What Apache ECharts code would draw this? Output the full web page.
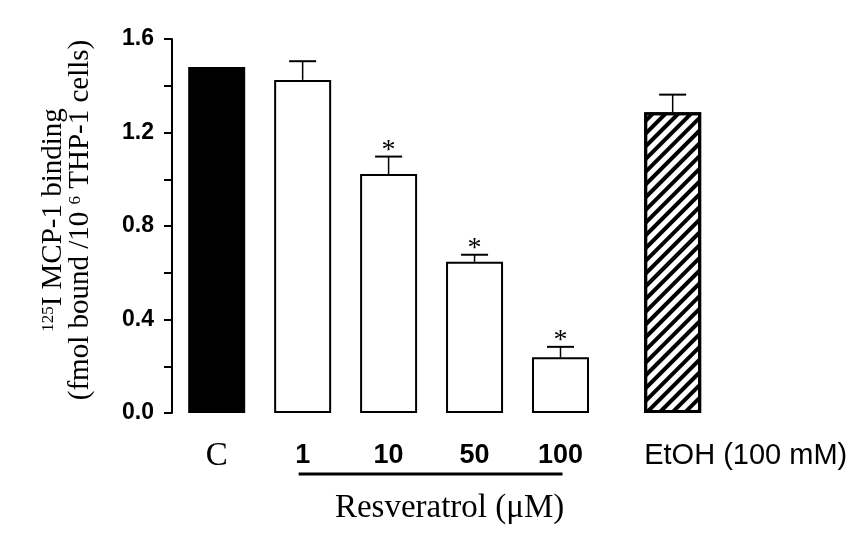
<!DOCTYPE html>
<html><head><meta charset="utf-8">
<script src="https://cdn.jsdelivr.net/npm/echarts@6/dist/echarts.min.js"></script>
<style>html,body{margin:0;padding:0;background:#fff}#c{width:864px;height:541px}</style>
</head><body><div id="c"></div>
<script>
// ---- data ----
const categories = ['C', '1', '10', '50', '100', 'EtOH (100 mM)'];
const values = [1.48, 1.425, 1.022, 0.647, 0.238, 1.287];
const errors = [0, 0.08, 0.075, 0.03, 0.045, 0.075];
const significant = [0, 0, 1, 1, 1, 0];
const yTicks = [0.0, 0.4, 0.8, 1.2, 1.6];
const groupLabel = 'Resveratrol (\u03bcM)';
const groupMembers = [1, 4];

// ---- layout ----
const slots = [0, 1, 2, 3, 4, 5.305];
const BAR_W = 57;
const SERIF = "'Liberation Serif', 'Times New Roman', serif";
const SANS = "'Liberation Sans', Arial, sans-serif";

const chart = echarts.init(document.getElementById('c'), null, {renderer: 'canvas'});

const styleFor = i => {
  if (i === 0) return {color: '#000', borderColor: '#000', borderWidth: 2};
  if (i === 5) return {color: '#fff', borderColor: '#000', borderWidth: 3,
    decal: {symbol: 'rect', symbolSize: 1, dashArrayX: [1, 0], dashArrayY: [4, 4.5],
            rotation: -Math.PI / 4, color: '#000'}};
  return {color: '#fff', borderColor: '#000', borderWidth: 2};
};

const nearestIdx = v => {
  let best = 0;
  slots.forEach((s, i) => { if (Math.abs(s - v) < Math.abs(slots[best] - v)) best = i; });
  return best;
};

const option = {
  animation: false,
  backgroundColor: '#fff',
  grid: {left: 172, top: 39, bottom: 128, right: 104, containLabel: false},
  xAxis: {
    type: 'value', min: -0.52, max: 6.321,
    axisLine: {show: false, onZero: false}, axisTick: {show: false}, splitLine: {show: false},
    axisLabel: {
      customValues: slots, margin: 26, color: '#000',
      formatter: v => {
        const i = nearestIdx(v);
        if (i === 0) return '{c|' + categories[i] + '}';
        if (i === 5) return '{e|' + categories[i] + '}';
        return '{n|' + categories[i] + '}';
      },
      rich: {
        c: {fontFamily: SERIF, fontSize: 33, lineHeight: 34, color: '#000'},
        n: {fontFamily: SANS, fontWeight: 'bold', fontSize: 27, lineHeight: 34, color: '#000'},
        e: {fontFamily: SANS, fontSize: 29, lineHeight: 34, color: '#000', width: BAR_W, align: 'left'}
      }
    }
  },
  yAxis: {
    type: 'value', min: yTicks[0], max: yTicks[yTicks.length - 1], interval: yTicks[1] - yTicks[0],
    axisLine: {show: true, onZero: false, lineStyle: {color: '#000', width: 2}},
    axisTick: {show: true, inside: false, length: 8, lineStyle: {color: '#000', width: 2}},
    minorTick: {show: true, splitNumber: 2, length: 8, lineStyle: {color: '#000', width: 2}},
    splitLine: {show: false}, minorSplitLine: {show: false},
    axisLabel: {formatter: v => v.toFixed(1), fontFamily: SANS, fontWeight: 'bold', fontSize: 23, color: '#000', margin: 18},
    name: '{sup|125}{t|I MCP-1 binding}\n{t|(fmol bound /10 }{sup|6}{t| THP-1 cells)}',
    nameLocation: 'middle', nameRotate: 90, nameGap: 78,
    nameTextStyle: {
      color: '#000', padding: [0, 0, 0, 12],
      rich: {
        t: {fontFamily: SERIF, fontSize: 29, lineHeight: 27, color: '#000'},
        sup: {fontFamily: SERIF, fontSize: 17, lineHeight: 14, verticalAlign: 'top', color: '#000'}
      }
    }
  },
  series: [
    {
      type: 'bar', barWidth: BAR_W, z: 2,
      data: values.map((v, i) => ({value: [slots[i], v], itemStyle: styleFor(i)}))
    },
    {
      type: 'custom', z: 3,
      data: values.map((v, i) => [slots[i], v, errors[i], significant[i]]),
      renderItem: (params, api) => {
        const x = api.value(0), y = api.value(1), e = api.value(2), sig = api.value(3);
        if (!e) return null;
        const p0 = api.coord([x, y]);
        const p1 = api.coord([x, y + e]);
        const ch = [
          {type: 'line', shape: {x1: p0[0], y1: p0[1], x2: p1[0], y2: p1[1]}, style: {stroke: '#000', lineWidth: 1.5}},
          {type: 'line', shape: {x1: p1[0] - 13.5, y1: p1[1], x2: p1[0] + 13.5, y2: p1[1]}, style: {stroke: '#000', lineWidth: 2}}
        ];
        if (sig) ch.push({type: 'text', x: p1[0], y: p1[1] - 6,
          style: {text: '*', fontFamily: SERIF, fontSize: 28, fill: '#000', align: 'center', verticalAlign: 'middle'}});
        return {type: 'group', children: ch};
      }
    }
  ]
};
chart.setOption(option);

const xa = chart.convertToPixel({xAxisIndex: 0}, slots[groupMembers[0]]);
const xb = chart.convertToPixel({xAxisIndex: 0}, slots[groupMembers[1]]);
const yBase = chart.convertToPixel({yAxisIndex: 0}, 0);
chart.setOption({
  graphic: [
    {type: 'line', shape: {x1: xa - 4, y1: yBase + 61, x2: xb + 2, y2: yBase + 61}, style: {stroke: '#000', lineWidth: 3}},
    {type: 'text', x: (xa + xb) / 2 + 18, y: yBase + 95,
     style: {text: groupLabel, fontFamily: SERIF, fontSize: 33, fill: '#000', align: 'center', verticalAlign: 'middle'}}
  ]
});
</script></body></html>
